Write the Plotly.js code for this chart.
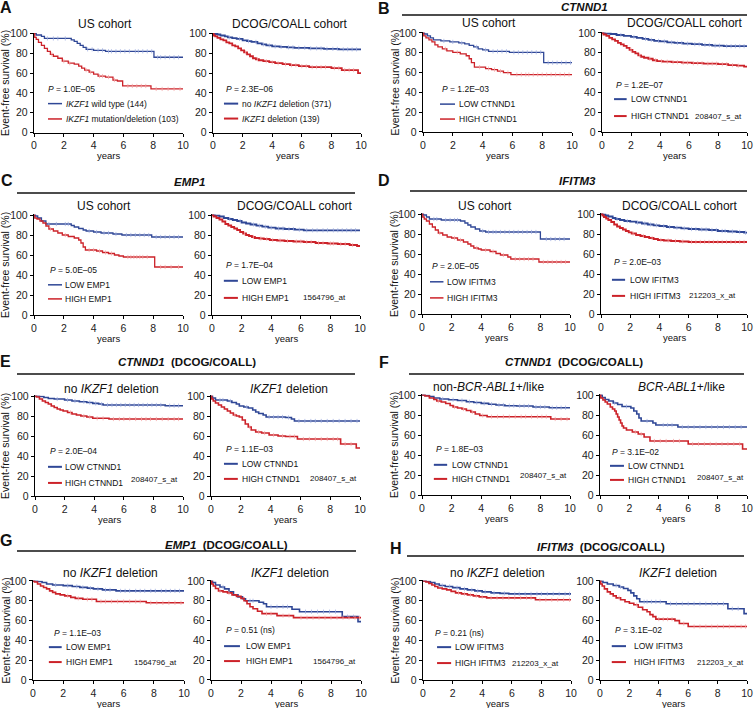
<!DOCTYPE html>
<html><head><meta charset="utf-8">
<script src="https://cdn.plot.ly/plotly-3.0.1.min.js"></script>
<style>html,body{margin:0;padding:0;background:#fff}#chart{width:754px;height:708px}</style>
</head><body><div id="chart"></div>
<script>
// ===== DATA (step times t, survival % s after each step, censor times c) =====
// A left: US cohort, IKZF1 wt (lo) vs mutation/deletion (hi)
const aL_lo_t=[0.15,0.5,0.7,2.5,2.7,2.9,3.1,3.3,3.5,4.0,4.8,8.05];
const aL_lo_s=[98.5,97,95,93.5,92,90,88,86,84,83,82,76];
const aL_lo_c=[0.9,1.3,1.6,2.1,3.6,3.9,4.3,4.6,5.0,5.2,5.5,5.8,6.1,6.4,6.8,7.0,7.3,7.6,7.9,8.3,8.5,8.8,9.1,9.4,9.7];
const aL_hi_t=[0.05,0.15,0.3,0.5,0.7,0.9,1.1,1.3,1.6,1.9,2.3,2.7,3.0,3.2,3.4,3.7,4.0,4.3,4.8,5.3,5.6,5.95,7.85];
const aL_hi_s=[96,94,91,88,85,82,79,77,75,72,70,69,67,65,63,61,59,57,56,53,52,47,44];
const aL_hi_c=[1.2,2.0,2.4,3.5,3.8,4.4,4.6,5.0,5.4,6.3,6.6,6.9,7.2,7.5,8.2,8.6,9.0,9.4,9.8];
// A right: DCOG/COALL, no IKZF1 deletion vs deletion
const aR_lo_t=[0.1,0.3,0.5,0.8,1.0,1.3,1.6,2.0,2.3,2.6,3.0,3.3,3.6,4.0,4.5,5.0,5.5,6.5,7.5,8.5];
const aR_lo_s=[99.5,99,98,97,96,95.3,94.5,93,92.3,91.5,90,89,88,87,86.5,86,85.5,85,84.5,84];
const aR_lo_c=[1.1,1.8,2.4,2.9,3.4,3.8,4.2,4.6,5.1,5.4,5.8,6.2,6.6,7.0,7.3,7.7,8.1,8.4,8.8,9.1,9.4,9.7];
const aR_hi_t=[0.05,0.15,0.3,0.5,0.7,0.9,1.1,1.3,1.5,1.7,1.9,2.1,2.3,2.5,2.7,2.9,3.1,3.4,3.8,4.2,4.7,5.2,5.8,6.5,8.0,8.7,9.8];
const aR_hi_s=[98,97,95.5,94,93,91,90,88,87,85,83,81,79,77,75,74,73,72,71,70,69,68,67,66,65,63,60];
const aR_hi_c=[2.2,3.0,3.6,4.0,4.4,4.9,5.3,5.6,6.0,6.3,6.7,7.0,7.3,7.6,8.2,8.5,8.9,9.2,9.5];
// B left: US, CTNND1
const bL_lo_t=[0.1,0.3,0.5,0.7,1.2,1.8,2.4,2.8,3.1,3.4,3.7,4.0,4.4,5.8,8.1];
const bL_lo_s=[99,97,95,93,92,91,90,89,87.5,86,84,83,81.5,80.5,70];
const bL_lo_c=[1.4,2.0,2.6,3.6,4.2,4.7,5.0,5.3,5.6,6.1,6.4,6.7,7.0,7.3,7.6,7.9,8.4,8.7,9.0,9.3,9.6,9.9];
const bL_hi_t=[0.05,0.2,0.4,0.6,0.8,1.0,1.3,1.6,2.0,2.5,2.9,3.1,3.25,3.45,4.2,4.6,5.0,5.4,5.9];
const bL_hi_s=[97,95,93,91,88,86,84,82,80.5,79,77,74,70,65.5,64,63,61.5,60,58];
const bL_hi_c=[1.5,2.3,3.8,4.4,4.8,5.2,5.7,6.3,6.6,6.9,7.1,7.4,7.7,8.0,8.3,8.6,8.9,9.2,9.5,9.8];
// B right: DCOG, CTNND1
const bR_lo_t=[0.2,0.6,1.0,1.5,2.0,2.4,2.8,3.2,3.6,4.0,4.5,5.0,5.6,6.2,6.9,7.6,8.4];
const bR_lo_s=[99.5,99,98,97,96,95,94,93,92,91.5,90.5,90,89.3,88.7,88,87.2,86.7];
const bR_lo_c=[1.3,2.2,3.0,3.4,3.9,4.3,4.8,5.2,5.5,5.9,6.4,6.7,7.1,7.4,7.8,8.1,8.6,8.9,9.2,9.5,9.8];
const bR_hi_t=[0.1,0.3,0.5,0.7,0.9,1.1,1.3,1.5,1.7,1.9,2.1,2.3,2.5,2.7,2.9,3.2,3.5,3.8,4.2,4.8,5.5,6.2,7.0,8.0,8.7,9.3,9.8];
const bR_hi_s=[98.5,97,95,93.5,92,90,88.5,87,85,83,81,79.5,77.5,76,75,74,72.5,71.5,71,70.5,70,69.5,69,68.5,67.5,67,66];
const bR_hi_c=[2.0,2.6,3.3,3.7,4.1,4.5,4.9,5.2,5.6,5.9,6.3,6.6,6.9,7.3,7.6,7.9,8.3,8.6,9.0,9.4];
// C left: US, EMP1
const cL_lo_t=[0.1,0.25,0.5,0.8,2.5,2.7,3.0,3.3,3.5,4.0,4.5,5.3,5.9,7.9];
const cL_lo_s=[99,97,94,91,89.5,88,86.5,85,84,83,82,81,80,78];
const cL_lo_c=[1.0,1.5,2.1,2.3,3.7,4.2,4.7,5.0,5.5,6.2,6.5,6.8,7.1,7.4,7.7,8.2,8.5,8.8,9.1,9.4,9.7];
const cL_hi_t=[0.05,0.2,0.4,0.6,0.8,1.0,1.3,1.6,1.9,2.3,2.7,3.0,3.15,3.3,3.45,4.2,4.6,5.0,5.4,5.7,6.0,8.1];
const cL_hi_s=[97,96,94,92,89,86,84,82,80,78.5,77,75,72,68,65,64,62.5,61.5,60,59,58,48];
const cL_hi_c=[1.1,2.1,3.7,4.0,4.4,4.8,5.2,6.3,6.5,6.7,6.9,7.1,7.3,7.6,8.5,8.8,9.2,9.7];
// C right: DCOG, EMP1
const cR_lo_t=[0.2,0.5,0.8,1.1,1.4,1.7,2.0,2.3,2.6,3.0,3.4,3.8,4.3,4.9,5.6,6.2];
const cR_lo_s=[99.5,98.5,97,96,95,94,92.5,91.5,90.5,89.3,88.3,87.3,86.5,86,85.3,84.7];
const cR_lo_c=[1.2,1.9,2.8,3.2,3.6,4.0,4.5,4.8,5.2,5.5,5.9,6.4,6.8,7.1,7.5,7.8,8.2,8.5,8.8,9.1,9.4,9.7];
const cR_hi_t=[0.1,0.3,0.5,0.7,0.9,1.1,1.3,1.5,1.7,1.9,2.1,2.3,2.5,2.7,2.9,3.2,3.5,3.9,4.4,4.9,5.5,6.2,7.0,7.8,8.5,9.3,9.8];
const cR_hi_s=[98.5,97,95.5,93.5,91,89.5,88,86.5,85,83,81.5,80,79,78,77,76.5,76,75,74.5,74,73.5,73,72,71.5,71,70,69];
const cR_hi_c=[2.2,2.8,3.3,3.7,4.1,4.6,5.1,5.7,6.0,6.4,6.7,7.2,7.5,8.0,8.2,8.7,9.0,9.5];
// D left: US, IFITM3
const dL_lo_t=[0.1,0.3,0.5,1.3,2.6,2.9,3.1,3.3,3.6,3.9,4.3,8.0];
const dL_lo_s=[99,97,95,94,93,91,89,87,85,83,82,75];
const dL_lo_c=[0.8,1.0,1.6,1.9,2.2,2.4,4.1,4.5,4.8,5.0,5.3,5.6,5.9,6.2,6.5,6.8,7.1,7.4,7.7,8.4,8.7,9.0,9.3,9.6];
const dL_hi_t=[0.05,0.15,0.3,0.5,0.7,0.9,1.1,1.4,1.7,2.0,2.4,2.8,3.1,3.3,3.5,3.8,4.0,4.6,5.0,5.3,5.8,6.0,7.9];
const dL_hi_s=[97,95,93,90,87,84,81,79,77,76,74,72,70,68,66,65,64,62.5,60.5,59,57,55,52];
const dL_hi_c=[1.2,2.2,2.6,3.7,4.3,4.8,5.5,6.3,6.6,6.9,7.2,7.5,8.2,8.5,8.8,9.1,9.4,9.7];
// D right: DCOG, IFITM3
const dR_lo_t=[0.1,0.3,0.5,0.8,1.0,1.3,1.6,2.0,2.4,2.8,3.2,3.6,4.0,4.5,5.0,5.5,6.0,6.7,7.4,8.0,8.7,9.3,9.8];
const dR_lo_s=[99.5,98.5,97.5,96,95,94,93,92.3,91.5,90.5,89.5,88.7,88,87,86.3,85.7,85,84.5,84,83,82.5,82,81.3];
const dR_lo_c=[1.1,1.8,2.5,3.0,3.4,3.8,4.3,4.7,5.2,5.7,6.2,6.5,6.9,7.2,7.6,7.9,8.3,8.5,9.0,9.5,9.9];
const dR_hi_t=[0.1,0.2,0.35,0.5,0.7,0.9,1.1,1.3,1.5,1.7,1.9,2.1,2.4,2.7,3.0,3.3,3.6,3.9,4.3,4.8,5.4,6.0];
const dR_hi_s=[98.5,97,95.5,94,92,89.5,87.5,86,84.5,83,81.7,80.5,79,78,77,76,75,74,73.5,73,72.5,72];
const dR_hi_c=[2.2,2.9,3.5,4.1,4.6,5.1,5.6,6.2,6.5,6.8,7.1,7.4,7.7,8.0,8.3,8.6,8.9,9.2,9.5,9.8];
// E left: CTNND1, no IKZF1 deletion
const eL_lo_t=[0.3,0.6,0.9,1.3,2.0,2.5,3.0,3.5,3.9,4.3,4.6,8.8];
const eL_lo_s=[99.5,98.5,97.5,97,96,95,94.3,93.5,92.6,92,91,90.3];
const eL_lo_c=[1.5,2.2,2.7,3.3,3.7,4.1,4.5,4.9,5.2,5.5,5.8,6.1,6.4,6.7,7.0,7.3,7.6,7.9,8.2,8.5,9.1,9.4,9.7];
const eL_hi_t=[0.1,0.3,0.5,0.7,0.9,1.1,1.3,1.5,1.7,1.9,2.2,2.5,2.8,3.1,3.5,3.9,5.0];
const eL_hi_s=[99,97,95,93.5,92,90,88.5,87,86,85,83.5,82,81,80,79,77.7,77];
const eL_hi_c=[2.4,3.3,3.7,4.2,4.6,5.3,5.7,6.0,6.4,6.8,7.2,7.5,7.8,8.2,8.6,9.0,9.4,9.7];
// E right: CTNND1, IKZF1 deletion
const eR_lo_t=[0.1,0.3,1.1,1.4,1.7,1.9,2.2,2.5,2.8,3.0,3.2,3.5,3.7,5.0,5.4,5.6];
const eR_lo_s=[98,96,95,93.5,92,90,89,88,86,84,82.5,81,79,78.5,77,75];
const eR_lo_c=[0.6,0.8,1.3,2.4,3.9,4.2,4.5,4.8,5.2,5.9,6.3,6.7,7.0,7.4,7.8,8.2,8.6,9.0,9.4,9.8];
const eR_hi_t=[0.05,0.15,0.3,0.5,0.7,0.9,1.1,1.3,1.5,1.7,1.9,2.1,2.3,2.5,2.7,3.0,3.4,3.9,4.5,5.0,5.8,8.7,9.75];
const eR_hi_s=[97,95,93,91,89,87,85,83,81,80,79,76,72,69,66,64,63,61,60,59.5,57,52,48];
const eR_hi_c=[1.6,2.6,3.2,3.6,4.2,4.8,5.3,5.6,6.2,6.6,7.0,7.4,7.8,8.2,8.5,9.0,9.4];
// F left: CTNND1, non-BCR-ABL1+/like
const fL_lo_t=[0.2,0.5,0.8,1.2,1.8,2.4,3.0,3.5,4.0,4.5,5.0,5.6,6.4,7.5,8.6];
const fL_lo_s=[99.5,98.5,97,96,95.3,94.5,93.3,92.5,91.6,90.8,90,89.3,89,88,87.3];
const fL_lo_c=[1.4,2.1,2.7,3.2,3.7,4.2,4.7,5.2,5.5,5.9,6.2,6.6,6.9,7.2,7.7,8.0,8.3,8.8,9.1,9.4,9.7];
const fL_hi_t=[0.2,0.5,0.8,1.0,1.3,1.6,1.9,2.1,2.4,2.7,3.0,3.3,3.6,3.9,4.4,8.7];
const fL_hi_s=[99,97,95.5,94,93,91.5,89.5,88,87,86,84.5,83,81,79.5,78.3,76];
const fL_hi_c=[1.1,2.2,2.8,3.4,4.1,4.7,5.1,5.5,5.9,6.3,6.7,7.0,7.4,7.8,8.1,8.4,9.0,9.4,9.8];
// F right: CTNND1, BCR-ABL1+/like
const fR_lo_t=[0.15,0.35,0.6,0.9,1.2,1.5,2.1,2.3,2.5,2.65,2.8,3.6,3.8,5.3];
const fR_lo_s=[97.5,95.5,94,92,90.5,88.5,87,84,81,77,74,72,70,68];
const fR_lo_c=[1.0,1.8,3.2,4.3,4.6,4.9,5.6,6.0,6.4,6.8,7.2,7.6,8.0,8.4,8.8,9.2,9.6];
const fR_hi_t=[0.05,0.2,0.35,0.5,0.7,0.85,1.0,1.1,1.2,1.3,1.4,1.5,1.6,1.8,2.2,2.6,3.0,3.4,6.0,9.7];
const fR_hi_s=[97,95,93,91,88,86,84,81,78,75,72,69,67,65,63,61,58,54,51,46];
const fR_hi_c=[2.4,2.8,3.7,4.1,4.5,5.0,5.4,6.3,6.7,7.1,7.5,7.9,8.3,8.7,9.1,9.5];
// G left: EMP1, no IKZF1 deletion
const gL_lo_t=[0.3,0.6,0.9,1.3,2.0,2.6,3.1,3.6,4.0,4.6,5.5];
const gL_lo_s=[99.5,98.5,97,96,95.3,94.5,93.6,92.8,92,91,90];
const gL_lo_c=[1.5,2.3,2.9,3.3,3.8,4.3,4.8,5.1,5.8,6.1,6.4,6.8,7.1,7.4,7.8,8.1,8.5,8.8,9.1,9.4,9.7];
const gL_hi_t=[0.1,0.3,0.5,0.7,0.9,1.1,1.3,1.5,1.8,2.1,2.5,2.8,3.3,4.2,7.5];
const gL_hi_s=[99,97,95,93.5,92,90,88.5,87,86,85,83.5,82.5,81.5,79.3,78];
const gL_hi_c=[2.3,3.0,3.6,3.9,4.5,4.8,5.2,5.6,6.0,6.4,6.8,7.1,7.8,8.2,8.6,9.0,9.4,9.8];
// G right: EMP1, IKZF1 deletion
const gR_lo_t=[0.1,0.3,0.6,0.9,1.2,1.5,1.8,2.1,2.3,3.2,3.5,3.7,5.4,5.9,8.75,9.8];
const gR_lo_s=[98.5,96,94,92,89,86,84,82,80,78.5,77,74,71.5,69,64,59];
const gR_lo_c=[0.8,2.6,2.8,4.0,4.4,4.8,5.1,6.3,6.7,7.1,7.5,7.9,8.3,9.1,9.5];
const gR_hi_t=[0.05,0.15,0.3,0.5,0.8,1.1,1.4,1.7,2.0,2.2,2.4,2.6,2.8,3.1,3.4,4.4,5.5];
const gR_hi_s=[97,95,92.5,90,89,88,86,84.5,82.5,80,77,74,72,69.5,67,65,63];
const gR_hi_c=[0.6,1.2,3.7,4.0,4.8,5.2,6.0,6.4,6.8,7.2,7.6,8.0,8.4,8.8,9.2,9.6,9.9];
// H left: IFITM3, no IKZF1 deletion
const hL_lo_t=[0.2,0.5,0.8,1.1,1.5,2.0,2.5,3.0,3.5,4.0,4.6,5.2,5.8];
const hL_lo_s=[99.5,98.5,97,95.5,94.5,93.3,92,91,90,89,88,87.5,87];
const hL_lo_c=[1.3,1.8,2.3,2.8,3.3,3.7,4.2,4.8,5.5,6.2,6.5,6.9,7.3,7.7,8.0,8.4,8.8,9.2,9.6,9.9];
const hL_hi_t=[0.2,0.4,0.6,0.8,1.0,1.3,1.6,1.9,2.2,2.6,3.0,3.4,3.8,4.3,7.6];
const hL_hi_s=[99,97.5,96,94.5,93,92,91,89.5,88,87,86,85,84,83,81];
const hL_hi_c=[2.4,2.8,3.2,3.6,4.0,4.6,5.0,5.4,5.8,6.2,6.6,7.0,7.3,7.9,8.3,8.7,9.1,9.5,9.9];
// H right: IFITM3, IKZF1 deletion
const hR_lo_t=[0.2,0.5,0.9,1.3,1.6,1.9,2.1,2.3,2.5,2.7,4.5,8.7,9.8];
const hR_lo_s=[98.5,97,95.5,94,92.5,90.5,88,85,82,79,77,72,67];
const hR_lo_c=[1.1,1.4,3.0,3.2,3.5,3.8,4.1,4.8,5.2,5.6,6.0,6.4,6.8,7.2,7.6,8.0,8.4,9.0,9.4];
const hR_hi_t=[0.05,0.15,0.3,0.5,0.7,0.9,1.1,1.4,1.7,2.0,2.3,2.6,2.9,3.2,3.4,3.6,3.8,5.1,5.4,6.0];
const hR_hi_s=[97,95,92,89,87,85,83,81,79,77.5,76,73.5,71,69,66,64,61.5,60,57,54];
const hR_hi_c=[1.3,2.5,4.0,4.3,4.6,4.9,5.7,6.4,6.8,7.2,7.6,8.0,8.4,8.8,9.2,9.6,9.9];

// ===== TEXT =====
const xTicks=[0,2,4,6,8,10];
const yTicks=[0,20,40,60,80,100];
const panelLetters=['A','B','C','D','E','F','G','H'];
const panelHeaders=['', '<b><i>CTNND1</i></b>', '<b><i>EMP1</i></b>', '<b><i>IFITM3</i></b>',
  '<b><i>CTNND1</i>\u00a0\u00a0(DCOG/COALL)</b>','<b><i>CTNND1</i>\u00a0\u00a0(DCOG/COALL)</b>',
  '<b><i>EMP1</i>\u00a0\u00a0(DCOG/COALL)</b>','<b><i>IFITM3</i>\u00a0\u00a0(DCOG/COALL)</b>'];
const subTitles=['US cohort','DCOG/COALL cohort','US cohort','DCOG/COALL cohort','US cohort','DCOG/COALL cohort','US cohort','DCOG/COALL cohort',
  'no <i>IKZF1</i> deletion','<i>IKZF1</i> deletion','non-<i>BCR-ABL1</i>+/like','<i>BCR-ABL1</i>+/like',
  'no <i>IKZF1</i> deletion','<i>IKZF1</i> deletion','no <i>IKZF1</i> deletion','<i>IKZF1</i> deletion'];
const pValues=['1.0E\u201305','2.3E\u201306','1.2E\u201303','1.2E\u201307','5.0E\u201305','1.7E\u201304','2.0E\u201305','2.0E\u201303',
  '2.0E\u201304','1.1E\u201303','1.8E\u201303','3.1E\u201302','1.1E\u201303','0.51 (ns)','0.21 (ns)','3.1E\u201302'];
const lowLabels=['<i>IKZF1</i> wild type (144)','no <i>IKZF1</i> deletion (371)','LOW CTNND1','LOW CTNND1','LOW EMP1','LOW EMP1','LOW IFITM3','LOW IFITM3',
  'LOW CTNND1','LOW CTNND1','LOW CTNND1','LOW CTNND1','LOW EMP1','LOW EMP1','LOW IFITM3','LOW IFITM3'];
const highLabels=['<i>IKZF1</i> mutation/deletion (103)','<i>IKZF1</i> deletion (139)','HIGH CTNND1','HIGH CTNND1','HIGH EMP1','HIGH EMP1','HIGH IFITM3','HIGH IFITM3',
  'HIGH CTNND1','HIGH CTNND1','HIGH CTNND1','HIGH CTNND1','HIGH EMP1','HIGH EMP1','HIGH IFITM3','HIGH IFITM3'];
const probes=['','','','208407_s_at','','1564796_at','','212203_x_at',
  '208407_s_at','208407_s_at','208407_s_at','208407_s_at','1564796_at','1564796_at','212203_x_at','212203_x_at'];

// ===== LAYOUT (positions in pixels) =====
const W=754,H=708,YMAX=100.6;
const FONT='Liberation Sans, Arial, Helvetica, sans-serif';
const BLUE='#2f4796', RED='#cc2229', BLUE_C='rgba(160,175,225,0.85)', RED_C='rgba(245,165,165,0.85)';
const curves=[
 [aL_lo_t,aL_lo_s,aL_lo_c,aL_hi_t,aL_hi_s,aL_hi_c],[aR_lo_t,aR_lo_s,aR_lo_c,aR_hi_t,aR_hi_s,aR_hi_c],
 [bL_lo_t,bL_lo_s,bL_lo_c,bL_hi_t,bL_hi_s,bL_hi_c],[bR_lo_t,bR_lo_s,bR_lo_c,bR_hi_t,bR_hi_s,bR_hi_c],
 [cL_lo_t,cL_lo_s,cL_lo_c,cL_hi_t,cL_hi_s,cL_hi_c],[cR_lo_t,cR_lo_s,cR_lo_c,cR_hi_t,cR_hi_s,cR_hi_c],
 [dL_lo_t,dL_lo_s,dL_lo_c,dL_hi_t,dL_hi_s,dL_hi_c],[dR_lo_t,dR_lo_s,dR_lo_c,dR_hi_t,dR_hi_s,dR_hi_c],
 [eL_lo_t,eL_lo_s,eL_lo_c,eL_hi_t,eL_hi_s,eL_hi_c],[eR_lo_t,eR_lo_s,eR_lo_c,eR_hi_t,eR_hi_s,eR_hi_c],
 [fL_lo_t,fL_lo_s,fL_lo_c,fL_hi_t,fL_hi_s,fL_hi_c],[fR_lo_t,fR_lo_s,fR_lo_c,fR_hi_t,fR_hi_s,fR_hi_c],
 [gL_lo_t,gL_lo_s,gL_lo_c,gL_hi_t,gL_hi_s,gL_hi_c],[gR_lo_t,gR_lo_s,gR_lo_c,gR_hi_t,gR_hi_s,gR_hi_c],
 [hL_lo_t,hL_lo_s,hL_lo_c,hL_hi_t,hL_hi_s,hL_hi_c],[hR_lo_t,hR_lo_s,hR_lo_c,hR_hi_t,hR_hi_s,hR_hi_c]];
const specs=[
 {box:[34,183,33.5,132.5],tc:[105,24],p:[0.08,0.44],lx:[0.094,0.188],tx:0.20,by:0.29,ry:0.136,lw:1.3},
 {box:[213,361,33.5,132.5],tc:[290,24],p:[0.074,0.44],lx:[0.074,0.17],tx:0.18,by:0.29,ry:0.14,lw:1.8},
 {box:[423,572,33,132],tc:[489,23],p:[0.114,0.43],lx:[0.114,0.215],tx:0.225,by:0.28,ry:0.13,lw:1.3},
 {box:[602,747,33,132],tc:[685,23],p:[0.083,0.47],lx:[0.083,0.17],tx:0.186,by:0.33,ry:0.16,lw:1.8,pr:[0.98,0.16]},
 {box:[34,183,215,315],tc:[104,206],p:[0.094,0.45],lx:[0.094,0.188],tx:0.195,by:0.30,ry:0.16,lw:1.3},
 {box:[212,360,215,315],tc:[295,206],p:[0.08,0.50],lx:[0.08,0.175],tx:0.19,by:0.34,ry:0.17,lw:1.8,pr:[0.92,0.17]},
 {box:[422,570,214,314],tc:[485,206],p:[0.054,0.48],lx:[0.054,0.145],tx:0.155,by:0.32,ry:0.16,lw:1.3},
 {box:[601,747,214,314],tc:[680,206],p:[0.075,0.52],lx:[0.075,0.165],tx:0.185,by:0.34,ry:0.18,lw:1.8,pr:[0.94,0.18]},
 {box:[35,183,396,496],tc:[111,389],p:[0.088,0.45],lx:[0.088,0.182],tx:0.19,by:0.29,ry:0.13,lw:1.6,pr:[0.98,0.16]},
 {box:[211,360,396,496],tc:[289,389],p:[0.087,0.47],lx:[0.087,0.18],tx:0.195,by:0.32,ry:0.17,lw:1.6,pr:[0.99,0.17]},
 {box:[422,570,395,495],tc:[488,387],p:[0.08,0.46],lx:[0.08,0.17],tx:0.19,by:0.30,ry:0.16,lw:1.6,pr:[0.99,0.19]},
 {box:[600,747,395,495],tc:[681,387],p:[0.068,0.43],lx:[0.068,0.163],tx:0.177,by:0.29,ry:0.15,lw:1.6,pr:[0.99,0.17]},
 {box:[33,184,581,680],tc:[110,573],p:[0.125,0.47],lx:[0.105,0.19],tx:0.205,by:0.33,ry:0.18,lw:1.6,pr:[0.97,0.18]},
 {box:[211,361,581,680],tc:[290,573],p:[0.087,0.505],lx:[0.087,0.193],tx:0.22,by:0.34,ry:0.19,lw:1.6,pr:[0.98,0.19]},
 {box:[423,571,581,680],tc:[498,573],p:[0.068,0.47],lx:[0.095,0.19],tx:0.2,by:0.33,ry:0.17,lw:1.6,pr:[0.93,0.17]},
 {box:[600,747,581,680],tc:[678,573],p:[0.088,0.505],lx:[0.08,0.177],tx:0.22,by:0.34,ry:0.18,lw:1.6,pr:[0.99,0.18]}];
const letterPos=[[6,7],[384,8],[7,180],[384,180],[5,361],[384,362],[6,540],[396,548]];
const headerPos=[null,[584,7],[189,182],[577,181],[187,362],[574,362],[226,545],[601,547]];
const headerLine=[null,[402,747,15],[17,355,193],[410,747,191],[17,355,374],[409,744,374],[17,356,551],[407,744,556]];
const yTitleX=[5,394];

// ===== BUILD =====
function sAt(t,s,c){let v=100;for(let i=0;i<t.length;i++){if(t[i]<=c)v=s[i];}return v;}
const data=[];
const layout={width:W,height:H,margin:{l:0,r:0,t:0,b:0},paper_bgcolor:'#fff',plot_bgcolor:'rgba(0,0,0,0)',
  showlegend:false,hovermode:false,font:{family:FONT,color:'#222'},annotations:[],shapes:[]};
const ann=layout.annotations, shp=layout.shapes;
function ax(x,y,text,size,opts){ann.push(Object.assign({xref:'paper',yref:'paper',x:x/W,y:1-y/H,text:text,showarrow:false,
  xanchor:'center',yanchor:'middle',font:{family:FONT,size:size,color:'#111'}},opts||{}));}

specs.forEach((sp,i)=>{
  const k=i+1, sfx=(k===1?'':String(k));
  const xr='x'+sfx, yr='y'+sfx;
  const [x0,x1,yt,yb]=sp.box;
  const ytop=yb-(yb-yt)*YMAX/100;
  const common={showline:true,linecolor:'#000',linewidth:1.2,ticks:'outside',ticklen:3,tickwidth:1,tickcolor:'#000',
    showgrid:false,zeroline:false,tickfont:{family:FONT,size:10.5,color:'#222'},fixedrange:true};
  layout['xaxis'+sfx]=Object.assign({domain:[x0/W,x1/W],range:[0,10],anchor:yr,tickmode:'array',tickvals:xTicks},common);
  layout['yaxis'+sfx]=Object.assign({domain:[1-yb/H,1-ytop/H],range:[0,YMAX],anchor:xr,tickmode:'array',tickvals:yTicks},common);
  const cv=curves[i];
  [[cv[0],cv[1],cv[2],BLUE,BLUE_C],[cv[3],cv[4],cv[5],RED,RED_C]].forEach(([t,s,c,col,ccol])=>{
    data.push({type:'scatter',mode:'lines',xaxis:xr,yaxis:yr,x:[0].concat(t,[10]),y:[100].concat(s,[s[s.length-1]]),
      line:{shape:'hv',color:col,width:sp.lw}});
    data.push({type:'scatter',mode:'markers',xaxis:xr,yaxis:yr,x:c,y:c.map(v=>sAt(t,s,v)),
      marker:{symbol:'line-ns',size:3,line:{width:0.9,color:ccol}}});
  });
  ax(sp.tc[0],sp.tc[1],subTitles[i],12);
  ax((x0+x1)/2,yb+23,'years',9.5);
  if(i%2===0){ax(yTitleX[(i/2)%2],(yt+yb)/2,'Event-free survival (%)',10.5,{textangle:-90});}
  const dx=xr+' domain', dy=yr+' domain', lf={family:FONT,size:8.5,color:'#111'};
  ann.push({xref:dx,yref:dy,x:sp.p[0],y:sp.p[1],text:'<i>P</i> = '+pValues[i],showarrow:false,xanchor:'left',yanchor:'middle',font:lf});
  ann.push({xref:dx,yref:dy,x:sp.tx,y:sp.by,text:lowLabels[i],showarrow:false,xanchor:'left',yanchor:'middle',font:lf});
  ann.push({xref:dx,yref:dy,x:sp.tx,y:sp.ry,text:highLabels[i],showarrow:false,xanchor:'left',yanchor:'middle',font:lf});
  const llw=sp.lw>1.5?2:1.5;
  shp.push({type:'line',xref:dx,yref:dy,x0:sp.lx[0],x1:sp.lx[1],y0:sp.by,y1:sp.by,line:{color:BLUE,width:llw}});
  shp.push({type:'line',xref:dx,yref:dy,x0:sp.lx[0],x1:sp.lx[1],y0:sp.ry,y1:sp.ry,line:{color:RED,width:llw}});
  if(sp.pr&&probes[i]){ann.push({xref:dx,yref:dy,x:sp.pr[0],y:sp.pr[1],text:probes[i],showarrow:false,xanchor:'right',yanchor:'middle',
    font:{family:FONT,size:8,color:'#111'}});}
});
panelLetters.forEach((L,j)=>{
  ax(letterPos[j][0],letterPos[j][1],'<b>'+L+'</b>',16,{xanchor:'center'});
  if(headerPos[j]){ax(headerPos[j][0],headerPos[j][1],panelHeaders[j],11.5);
    const hl=headerLine[j];
    shp.push({type:'line',xref:'paper',yref:'paper',x0:hl[0]/W,x1:hl[1]/W,y0:1-hl[2]/H,y1:1-hl[2]/H,line:{color:'#111',width:1.3}});}
});
Plotly.newPlot('chart',data,layout,{staticPlot:true,displayModeBar:false});
</script></body></html>
